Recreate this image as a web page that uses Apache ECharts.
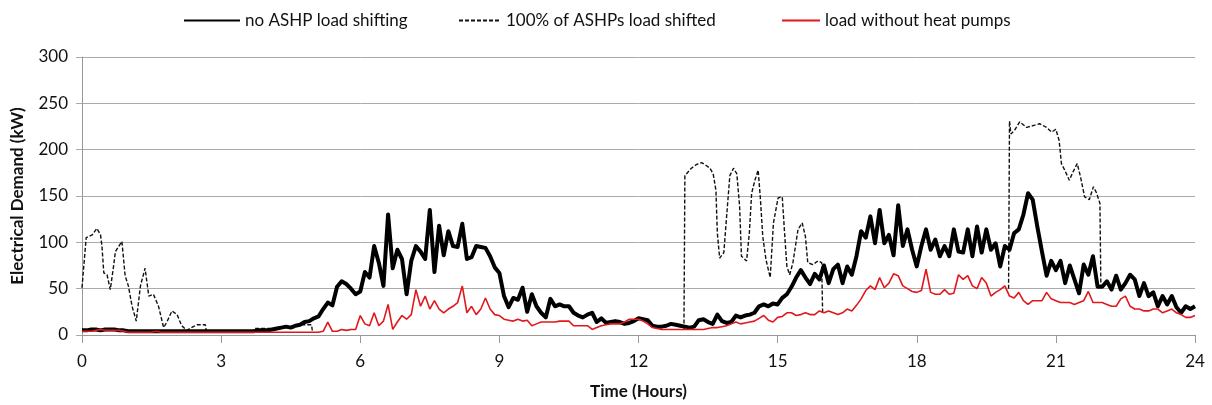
<!DOCTYPE html>
<html>
<head>
<meta charset="utf-8">
<script src="https://cdn.jsdelivr.net/npm/echarts@6/dist/echarts.min.js"></script>
<style>
  html, body { margin: 0; padding: 0; background: #fff; }
  #chart { width: 1212px; height: 405px; }
</style>
</head>
<body>
<div id="chart"></div>
<script>
// sampled every 0.1 h, 0 .. 24
const step = 0.1
const noShift = [
  5, 5, 6, 6, 5, 6, 6, 6, 5, 5,
  4, 4, 4, 4, 4, 4, 4, 4, 4, 4,
  4, 4, 4, 4, 4, 4, 4, 4, 4, 4,
  4, 4, 4, 4, 4, 4, 4, 4, 5, 5,
  5, 6, 7, 8, 9, 8, 10, 11, 14, 15,
  18, 20, 28, 35, 32, 52, 58, 55, 50, 44,
  47, 68, 62, 96, 78, 53, 130, 72, 92, 82,
  44, 80, 96, 90, 82, 135, 68, 118, 86, 112,
  96, 95, 120, 82, 84, 96, 95, 94, 85, 73,
  67, 42, 30, 40, 38, 51, 25, 44, 31, 24,
  19, 39, 31, 33, 31, 31, 24, 21, 19, 22,
  24, 14, 18, 13, 14, 15, 14, 12, 13, 15,
  18, 17, 16, 10, 9, 9, 10, 12, 11, 10,
  9, 8, 9, 16, 17, 14, 12, 22, 15, 13,
  14, 21, 19, 21, 22, 24, 31, 33, 31, 34,
  33, 40, 44, 52, 62, 70, 62, 55, 66, 60,
  75, 56, 71, 76, 56, 74, 65, 85, 112, 105,
  128, 99, 135, 99, 108, 86, 140, 96, 114, 92,
  74, 96, 114, 92, 103, 85, 96, 85, 114, 90,
  89, 114, 85, 117, 89, 114, 92, 99, 74, 96,
  92, 110, 114, 130, 153, 146, 117, 90, 64, 80,
  70, 80, 56, 75, 60, 45, 76, 65, 85, 52,
  52, 58, 49, 64, 49, 56, 65, 60, 42, 56,
  42, 46, 31, 42, 33, 42, 30, 24, 31, 28,
  31
]
const noHeatPumps = [
  4, 4, 4, 5, 6, 5, 5, 5, 5, 4,
  3, 3, 3, 3, 3, 3, 4, 3, 3, 3,
  3, 3, 3, 3, 3, 3, 3, 3, 3, 3,
  3, 3, 3, 3, 3, 3, 3, 3, 3, 3,
  3, 3, 3, 3, 3, 3, 3, 3, 3, 3,
  3, 3, 4, 14, 4, 4, 6, 5, 6, 6,
  21, 12, 10, 24, 10, 15, 33, 6, 14, 21,
  17, 22, 49, 31, 42, 28, 37, 28, 24, 28,
  31, 35, 53, 24, 31, 22, 28, 40, 28, 22,
  21, 17, 16, 15, 17, 15, 16, 10, 12, 14,
  14, 14, 14, 15, 15, 15, 10, 10, 10, 10,
  6, 8, 10, 11, 12, 12, 12, 14, 17, 17,
  17, 15, 12, 8, 7, 6, 6, 6, 6, 6,
  6, 6, 6, 6, 6, 7, 8, 8, 9, 10,
  12, 14, 12, 13, 14, 15, 18, 21, 16, 14,
  19, 20, 24, 24, 21, 22, 24, 22, 22, 26,
  24, 26, 24, 22, 24, 28, 26, 32, 39, 48,
  53, 49, 62, 51, 56, 66, 64, 53, 50, 47,
  46, 48, 71, 46, 44, 44, 49, 44, 45, 65,
  60, 64, 53, 50, 62, 56, 42, 46, 49, 53,
  42, 40, 46, 37, 33, 37, 37, 37, 46, 39,
  37, 35, 35, 35, 33, 35, 37, 47, 35, 35,
  35, 33, 31, 31, 39, 42, 31, 28, 28, 26,
  26, 28, 28, 24, 26, 28, 24, 22, 19, 19,
  21
]
// shifted case: only where it leaves the other curves (null = hidden under them)
const shiftHours = [
  0, 0.09, 0.22, 0.32, 0.4, 0.43, 0.47, 0.54, 0.61, 0.68, 0.72, 0.86, 0.93, 1.0, 1.08, 1.17,
  1.26, 1.36, 1.44, 1.54, 1.65, 1.76, 1.83, 1.94, 2.05, 2.15, 2.26, 2.4, 2.48, 2.66, 2.68,
  3.7, 3.72, 4.2, 4.4, 4.62, 4.65, 4.95, 4.97, 5.0,
  12.98, 13.0, 13.14, 13.25, 13.36, 13.43, 13.54, 13.61, 13.67, 13.7, 13.75, 13.84, 13.9,
  13.97, 14.05, 14.12, 14.18, 14.22, 14.33, 14.39, 14.44, 14.51, 14.58, 14.63, 14.68, 14.75,
  14.84, 14.91, 15.01, 15.1, 15.15, 15.2, 15.26, 15.33, 15.44, 15.53, 15.6, 15.65, 15.76,
  15.87, 15.95, 15.97, 16.0,
  19.98, 20.0, 20.03, 20.11, 20.22, 20.37, 20.51, 20.65, 20.8, 20.91, 21.0, 21.07, 21.12,
  21.19, 21.29, 21.37, 21.46, 21.53, 21.62, 21.72, 21.81, 21.88, 21.95, 21.97
]
const shiftValues = [
  51, 105, 108, 115, 108, 96, 67, 65, 49, 74, 90, 101, 64, 53, 31, 15,
  53, 72, 42, 44, 31, 8, 14, 26, 22, 10, 5, 9, 11, 11, 4,
  4, 7, 7, 8, 8, 11, 11, 3, null,
  6, 172, 180, 184, 186, 184, 180, 174, 156, 110, 83, 89, 128,
  172, 180, 174, 139, 85, 80, 110, 153, 167, 178, 146, 106, 81,
  62, 121, 148, 149, 110, 74, 65, 78, 114, 121, 106, 78, 76,
  80, 78, 24, null,
  50, 231, 217, 221, 230, 224, 226, 228, 224, 219, 222, 210, 185,
  178, 167, 176, 185, 171, 149, 146, 160, 153, 142, 53
]
const xTicks = [0, 3, 6, 9, 12, 15, 18, 21, 24]

const font = 'Lato, "Open Sans", sans-serif'
const toPairs = (vals) => vals.map((v, i) => [Math.round(i * step * 10) / 10, v])

const legendText = { fontFamily: font, fontSize: 17, color: '#111' }
const noDot = { opacity: 0 }

const chart = echarts.init(document.getElementById('chart'))
chart.setOption({
  animation: false,
  grid: { left: 82, right: 17, top: 57, bottom: 69 },
  legend: [
    { data: ['no ASHP load shifting'], left: 178, top: 7, itemWidth: 56, itemHeight: 10,
      itemStyle: noDot, textStyle: legendText },
    { data: ['100% of ASHPs load shifted'], left: 453, top: 7, itemWidth: 42, itemHeight: 10,
      itemStyle: noDot, textStyle: legendText },
    { data: ['load without heat pumps'], left: 776, top: 7, itemWidth: 38, itemHeight: 10,
      itemStyle: noDot, textStyle: legendText }
  ],
  xAxis: {
    type: 'value', min: 0, max: 24, interval: 3,
    name: 'Time (Hours)', nameLocation: 'middle', nameGap: 48,
    nameTextStyle: { fontFamily: font, fontSize: 17, fontWeight: 'bold', color: '#111' },
    axisLine: { lineStyle: { color: '#999' } },
    axisTick: { length: 8, lineStyle: { color: '#999' } },
    axisLabel: { fontFamily: font, fontSize: 17, color: '#111', margin: 18,
      customValues: xTicks },
    splitLine: { show: false }
  },
  yAxis: {
    type: 'value', min: 0, max: 300, interval: 50,
    name: 'Electrical Demand (kW)', nameLocation: 'middle', nameGap: 56,
    nameTextStyle: { fontFamily: font, fontSize: 17, fontWeight: 'bold', color: '#111' },
    axisLine: { show: true, lineStyle: { color: '#999' } },
    axisTick: { show: true, length: 6, lineStyle: { color: '#aaa' } },
    axisLabel: { fontFamily: font, fontSize: 17, color: '#111', margin: 14 },
    splitLine: { lineStyle: { color: '#aaa', width: 1 } }
  },
  series: [
    {
      name: '100% of ASHPs load shifted', type: 'line', showSymbol: false, symbol: 'none',
      data: shiftHours.map((h, i) => [h, shiftValues[i] === null ? '-' : shiftValues[i]]),
      lineStyle: { color: '#111', width: 1.4, type: [4, 2] },
      itemStyle: { color: '#111' }, z: 2
    },
    {
      name: 'no ASHP load shifting', type: 'line', showSymbol: false, symbol: 'none',
      data: toPairs(noShift),
      lineStyle: { color: '#000', width: 4, join: 'round' },
      itemStyle: { color: '#000' }, z: 3
    },
    {
      name: 'load without heat pumps', type: 'line', showSymbol: false, symbol: 'none',
      data: toPairs(noHeatPumps),
      lineStyle: { color: '#e0181b', width: 1.6 },
      itemStyle: { color: '#e0181b' }, z: 4
    }
  ]
})
</script>
</body>
</html>
